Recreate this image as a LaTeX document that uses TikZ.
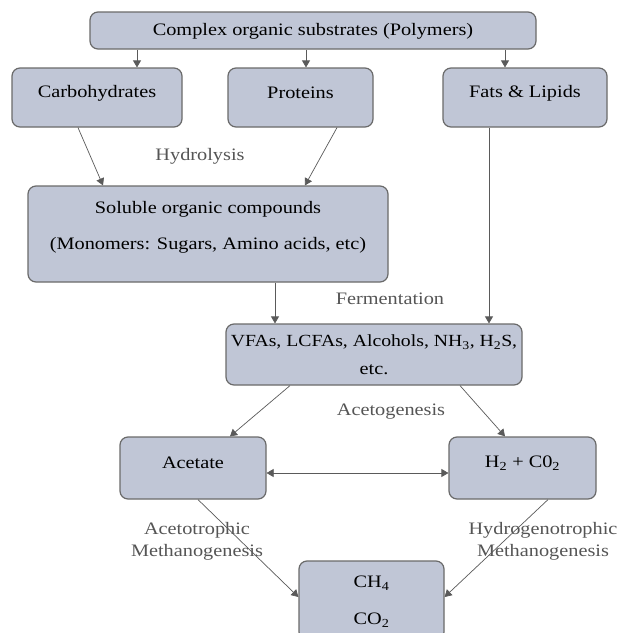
\documentclass[tikz,border=0pt]{standalone}
\usepackage{fontspec}
\setmainfont{Liberation Serif}[FakeStretch=1.16]
\usetikzlibrary{arrows.meta}
\definecolor{boxfill}{HTML}{C0C6D6}
\definecolor{boxline}{HTML}{6A6A6A}
\definecolor{arrcol}{HTML}{5A5A5A}
\definecolor{lblcol}{HTML}{555555}
\begin{document}
\begin{tikzpicture}[x=1pt,y=-1pt,
 box/.style={draw=boxline, fill=boxfill, rounded corners=8pt, line width=1.2pt, inner sep=0pt},
 txt/.style={font=\fontsize{17.5}{20}\selectfont, inner sep=0pt, text=black},
 lbl/.style={font=\fontsize{17.5}{22}\selectfont, inner sep=0pt, text=lblcol, align=center},
 arr/.style={draw=arrcol, line width=0.7pt, -{Triangle[length=7pt,width=8pt]}},
 darr/.style={draw=arrcol, line width=0.7pt, {Triangle[length=7pt,width=8pt]}-{Triangle[length=7pt,width=8pt]}},
]
\useasboundingbox (0,0) rectangle (620,633);
\clip (0,0) rectangle (620,633);
\fill[white] (0,0) rectangle (620,633);

% boxes
\node[box, minimum width=446pt, minimum height=37pt] (top) at (313,30.5) {};
\node[box, minimum width=170pt, minimum height=59pt] (carb) at (97,97.5) {};
\node[box, minimum width=145pt, minimum height=59pt] (prot) at (300.5,97.5) {};
\node[box, minimum width=164pt, minimum height=59pt] (fats) at (525,97.5) {};
\node[box, minimum width=360pt, minimum height=96pt] (sol) at (208,234) {};
\node[box, minimum width=296pt, minimum height=61pt] (vfa) at (374,354.5) {};
\node[box, minimum width=146pt, minimum height=62pt] (acet) at (193,468) {};
\node[box, minimum width=147pt, minimum height=62pt] (h2) at (522.5,468) {};
\node[box, minimum width=145pt, minimum height=79pt] (ch4) at (371.5,600.5) {};

% box texts
\node[txt] (topT) at (313,31) {Complex organic substrates (Polymers)};
\node[txt] (carbT) at (97,93) {Carbohydrates};
\node[txt] (protT) at (300.5,93) {Proteins};
\node[txt] (fatsT) at (525,93) {Fats \& Lipids};
\node[txt] (solT1) at (208,209) {Soluble organic compounds};
\node[txt] (solT2) at (208,245) {(Monomers: Sugars, Amino acids, etc)};
\node[txt, font=\fontsize{17}{20}\selectfont] (vfaT1) at (374,342) {VFAs, LCFAs, Alcohols, NH\textsubscript{3}, H\textsubscript{2}S,};
\node[txt] (vfaT2) at (374,370) {etc.};
\node[txt] (acetT) at (193,463) {Acetate};
\node[txt] (h2T) at (522.5,463) {H\textsubscript{2} + C0\textsubscript{2}};
\node[txt] (ch4T1) at (371.5,583) {CH\textsubscript{4}};
\node[txt] (ch4T2) at (371.5,620) {CO\textsubscript{2}};

% process labels
\node[lbl] (hydro) at (200,156) {Hydrolysis};
\node[lbl] (ferm) at (390,299) {Fermentation};
\node[lbl] (aceto) at (391,412) {Acetogenesis};
\node[lbl] (acmeth) at (197,541) {Acetotrophic\\Methanogenesis};
\node[lbl] (hymeth) at (543,541) {Hydrogenotrophic\\Methanogenesis};

% connectors
\draw[arr] ([xshift=-176pt]top.south) -- ([xshift=-176pt]top.south |- carb.north);
\draw[arr] ([xshift=-7pt]top.south) -- ([xshift=-7pt]top.south |- prot.north);
\draw[arr] ([xshift=192pt]top.south) -- ([xshift=192pt]top.south |- fats.north);
\draw[arr] ([xshift=-19pt]carb.south) -- ([xshift=-105pt]sol.north);
\draw[arr] ([xshift=36.5pt]prot.south) -- ([xshift=97pt]sol.north);
\draw[arr] ([xshift=67pt]sol.south) -- ([xshift=67pt]sol.south |- vfa.north);
\draw[arr] ([xshift=-36pt]fats.south) -- ([xshift=-36pt]fats.south |- vfa.north);
\draw[arr] ([xshift=-84pt]vfa.south) -- ([xshift=37pt]acet.north);
\draw[arr] ([xshift=86pt]vfa.south) -- ([xshift=-17.5pt]h2.north);
\draw[darr] ([yshift=-5pt]acet.east) -- ([yshift=-5pt]h2.west);
\draw[arr] ([xshift=5pt]acet.south) -- ([yshift=3.5pt]ch4.west);
\draw[arr] ([xshift=25.5pt]h2.south) -- ([yshift=3.5pt]ch4.east);
\end{tikzpicture}
\end{document}
